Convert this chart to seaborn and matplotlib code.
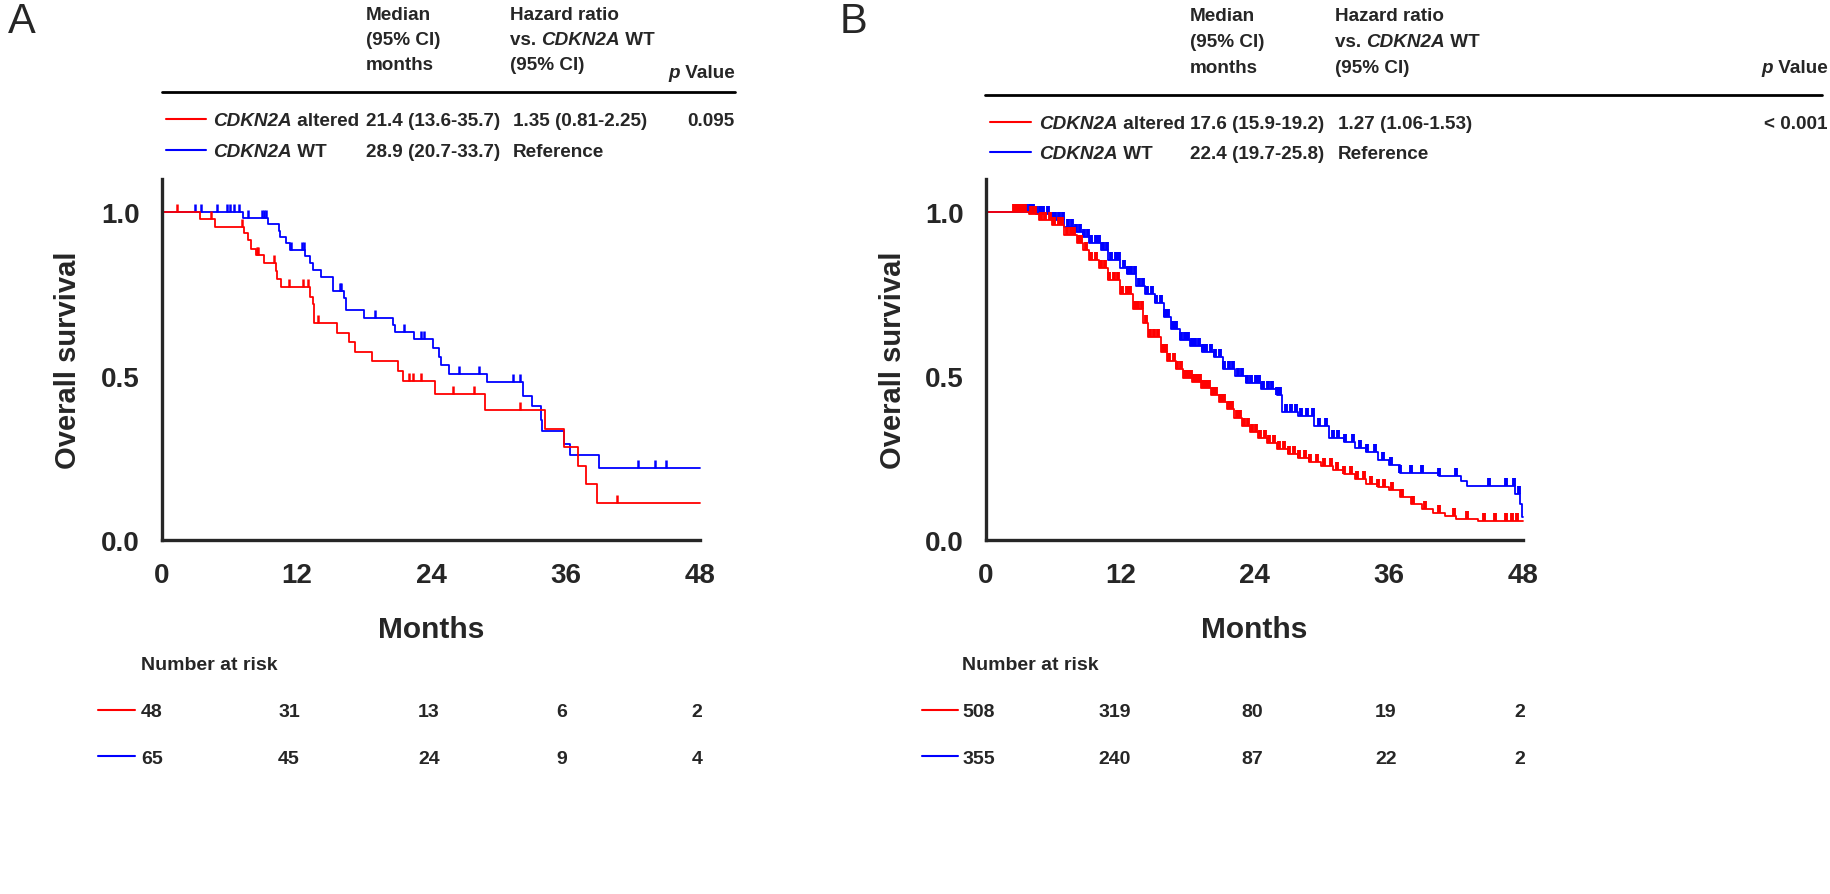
import matplotlib
matplotlib.use("Agg")
import matplotlib.pyplot as plt
import seaborn as sns
import pandas as pd
import numpy as np
from matplotlib.transforms import IdentityTransform

W, H = 1831, 895

# ---------------- panel A: CDKN2A altered (red) / WT (blue) ----------------
a_alt_time = [0, 3.4, 4.7, 7.3, 7.7, 7.9, 8.4, 9.1, 10.2, 10.3, 10.6, 13.2, 13.5, 13.6,
              15.6, 16.7, 17.2, 18.7, 21.1, 21.5, 24.4, 28.8, 34.2, 35.9, 37.1, 37.8, 38.8, 48]
a_alt_surv = [1.0, 0.978, 0.955, 0.935, 0.913, 0.887, 0.867, 0.845, 0.82, 0.795, 0.77, 0.74, 0.718, 0.66,
              0.632, 0.603, 0.574, 0.545, 0.516, 0.486, 0.446, 0.395, 0.339, 0.282, 0.226, 0.17, 0.113, 0.113]
a_alt_cens = [1.3, 4.4, 7.1, 8.5, 8.6, 10.0, 11.3, 12.6, 13.0, 13.9, 22.0, 22.4, 23.1, 26.0, 27.8, 31.9, 40.6]

a_wt_time = [0, 7.2, 9.5, 10.4, 10.5, 11.1, 11.4, 12.8, 13.2, 13.5, 14.2, 15.3, 16.2, 16.4, 18.0,
             20.6, 20.8, 22.5, 24.2, 24.7, 24.9, 25.6, 29.0, 32.2, 33.0, 33.8, 33.9, 35.9, 36.4, 39.0, 48]
a_wt_surv = [1.0, 0.98, 0.962, 0.943, 0.924, 0.904, 0.884, 0.865, 0.845, 0.823, 0.802, 0.76, 0.738, 0.70, 0.677,
             0.655, 0.633, 0.612, 0.585, 0.559, 0.533, 0.507, 0.48, 0.44, 0.407, 0.367, 0.333, 0.293, 0.258, 0.219, 0.219]
a_wt_cens = [2.9, 3.5, 4.9, 5.8, 6.1, 6.4, 6.9, 7.7, 8.9, 9.1, 9.3, 11.5, 12.5, 12.7, 15.9, 16.0,
             19.0, 21.6, 23.1, 23.4, 26.5, 28.3, 31.3, 31.9, 42.5, 44.0, 45.0]

a_risk_alt = [48, 31, 13, 6, 2]
a_risk_wt = [65, 45, 24, 9, 4]
a_stats_alt = ["21.4 (13.6-35.7)", "1.35 (0.81-2.25)", "0.095"]
a_stats_wt = ["28.9 (20.7-33.7)", "Reference", ""]

# ---------------- panel B ----------------
b_alt_time = [0, 3.8, 4.7, 5.9, 7.0, 8.1, 8.7, 9.2, 10.1, 10.9, 12.0, 13.1, 14.0, 14.5, 15.6, 16.2,
              17.0, 17.6, 18.4, 19.2, 20.1, 20.8, 21.5, 22.2, 22.9, 23.6, 24.3, 25.1, 26.0, 27.0,
              27.9, 28.9, 29.9, 31.0, 32.0, 33.0, 34.0, 35.0, 36.0, 37.0, 38.0, 39.0, 40.0, 41.0,
              42.0, 44.0, 48]
b_alt_surv = [1.0, 0.994, 0.976, 0.959, 0.928, 0.906, 0.885, 0.854, 0.828, 0.793, 0.749, 0.705, 0.662,
              0.618, 0.574, 0.544, 0.522, 0.495, 0.48, 0.462, 0.443, 0.42, 0.399, 0.372, 0.347, 0.33,
              0.312, 0.295, 0.277, 0.262, 0.25, 0.237, 0.225, 0.212, 0.2, 0.185, 0.17, 0.162, 0.152,
              0.13, 0.11, 0.095, 0.082, 0.072, 0.065, 0.058, 0.058]
b_alt_cens = [2.5, 2.7, 2.9, 3.1, 3.3, 3.5, 4.0, 4.4, 4.9, 5.3, 5.7, 6.1, 6.5, 6.8, 7.2, 7.6, 7.9,
              8.3, 8.5, 8.9, 9.4, 9.8, 10.3, 10.6, 11.0, 11.4, 11.8, 12.2, 12.6, 12.9, 13.3, 13.6,
              13.9, 14.3, 14.7, 15.0, 15.4, 15.8, 16.1, 16.4, 16.8, 17.1, 17.4, 17.8, 18.1, 18.3,
              18.6, 18.9, 19.1, 19.4, 19.7, 19.9, 20.3, 20.6, 21.0, 21.3, 21.7, 22.0, 22.4, 22.7,
              23.1, 23.4, 23.8, 24.1, 24.5, 24.9, 25.3, 25.7, 26.2, 26.6, 27.1, 27.5, 28.0, 28.5,
              29.0, 29.6, 30.2, 30.8, 31.4, 32.0, 32.6, 33.2, 33.8, 34.4, 35.0, 35.6, 36.3, 37.2,
              38.2, 39.2, 40.5, 41.8, 43.0, 44.5, 45.5, 46.5, 47.0, 47.5]

b_wt_time = [0, 4.5, 5.9, 7.0, 8.0, 8.7, 9.2, 10.3, 10.9, 12.0, 12.6, 13.4, 14.2, 15.1, 15.9, 16.5,
             17.3, 18.2, 19.3, 20.4, 21.2, 22.3, 23.2, 24.6, 26.0, 26.5, 27.9, 29.3, 30.7, 32.0,
             33.0, 34.0, 35.0, 36.0, 37.0, 40.5, 42.5, 43.0, 47.3, 47.7, 47.9, 48]
b_wt_surv = [1.0, 0.993, 0.976, 0.955, 0.94, 0.924, 0.906, 0.885, 0.854, 0.828, 0.81, 0.775, 0.749,
             0.723, 0.68, 0.644, 0.61, 0.592, 0.574, 0.557, 0.522, 0.5, 0.478, 0.46, 0.443, 0.39,
             0.377, 0.347, 0.312, 0.3, 0.28, 0.268, 0.245, 0.23, 0.205, 0.195, 0.18, 0.165, 0.14,
             0.11, 0.07, 0.07]
b_wt_cens = [3.6, 3.9, 4.2, 4.5, 4.8, 5.1, 5.5, 5.9, 6.2, 6.5, 6.9, 7.3, 7.7, 8.0, 8.4, 8.8, 9.1,
             9.4, 9.8, 10.1, 10.5, 10.8, 11.2, 11.6, 11.9, 12.3, 12.7, 13.0, 13.3, 13.7, 14.0, 14.4,
             14.8, 15.2, 15.6, 16.0, 16.3, 16.7, 17.0, 17.4, 17.8, 18.1, 18.4, 18.7, 19.0, 19.4,
             19.7, 20.1, 20.5, 20.9, 21.3, 21.7, 22.1, 22.5, 22.9, 23.3, 23.7, 24.1, 24.4, 24.8,
             25.2, 25.6, 26.0, 26.3, 26.8, 27.3, 27.7, 28.2, 28.7, 29.2, 29.8, 30.4, 31.0, 31.5,
             32.1, 32.8, 33.4, 34.1, 34.8, 35.5, 36.2, 37.0, 38.0, 39.0, 40.5, 42.0, 45.0, 46.5,
             47.2, 47.6]

b_risk_alt = [508, 319, 80, 19, 2]
b_risk_wt = [355, 240, 87, 22, 2]
b_stats_alt = ["17.6 (15.9-19.2)", "1.27 (1.06-1.53)", "< 0.001"]
b_stats_wt = ["22.4 (19.7-25.8)", "Reference", ""]

month_ticks = [0, 12, 24, 36, 48]
RED, BLUE = "#ff0000", "#0000ff"

sns.set_style("white")
plt.rcParams["font.family"] = ["Liberation Sans", "DejaVu Sans"]

fig = plt.figure(figsize=(W / 100, H / 100), dpi=100)
renderer = fig.canvas.get_renderer()
ID = IdentityTransform()
FS = 13.6


def rich(x, y, parts, size=FS, ha="left"):
    # parts: list of (text, fontstyle); x,y in pixels from top-left, y = text centre
    arts = []
    for s, st in parts:
        t = fig.text(0, H - y, s, transform=ID, weight="bold", style=st, fontsize=size,
                     va="center_baseline", ha="left")
        arts.append(t)
    widths = [a.get_window_extent(renderer).width for a in arts]
    x0 = x - sum(widths) if ha == "right" else x
    for a, w in zip(arts, widths):
        a.set_x(x0)
        x0 += w


def hline(x0, x1, y, col, lw):
    fig.add_artist(plt.Line2D([x0 / W, x1 / W], [1 - y / H] * 2, color=col, lw=lw))


def km_panel(left, right, cfg):
    ax = fig.add_axes([left / W, (H - 541) / H, (right - left) / W, (541 - 180) / H])
    for t, s, c, col in [(cfg["wt_t"], cfg["wt_s"], cfg["wt_c"], BLUE),
                         (cfg["alt_t"], cfg["alt_s"], cfg["alt_c"], RED)]:
        df = pd.DataFrame({"Months": t, "Survival": s})
        sns.lineplot(data=df, x="Months", y="Survival", drawstyle="steps-post", estimator=None,
                     sort=False, color=col, lw=1.3, ax=ax, clip_on=False)
        idx = np.searchsorted(t, c, side="right") - 1
        ax.plot(c, np.asarray(s)[idx], ls="none", marker=2, ms=cfg["ms"], mew=cfg["mew"],
                color=col, clip_on=False)
    ax.set_xlim(0, 48)
    ax.set_ylim(0, 1.1)
    ax.set_xticks(month_ticks)
    ax.set_yticks([0, 0.5, 1.0])
    ax.set_yticklabels(["0.0", "0.5", "1.0"])
    sns.despine(ax=ax)
    for sp in ["left", "bottom"]:
        ax.spines[sp].set_linewidth(2.4)
    ax.tick_params(direction="out", length=9, width=2.4, pad=7, labelsize=20)
    for lab in ax.get_xticklabels() + ax.get_yticklabels():
        lab.set_weight("bold")
    ax.set_xlabel("Months", fontsize=21.5, weight="bold")
    ax.set_ylabel("Overall survival", fontsize=21, weight="bold")
    ax.xaxis.set_label_coords(0.5, (541 - 630) / 361)
    ax.xaxis.label.set_va("center")
    ax.yaxis.set_label_coords((cfg["ylab_x"] - left) / (right - left), 0.5)
    ax.yaxis.label.set_va("center")
    ax.set_facecolor("none")
    return ax


km_panel(162, 700, dict(alt_t=a_alt_time, alt_s=a_alt_surv, alt_c=a_alt_cens,
                        wt_t=a_wt_time, wt_s=a_wt_surv, wt_c=a_wt_cens,
                        ms=5.5, mew=1.8, ylab_x=68))
km_panel(986, 1523, dict(alt_t=b_alt_time, alt_s=b_alt_surv, alt_c=b_alt_cens,
                         wt_t=b_wt_time, wt_s=b_wt_surv, wt_c=b_wt_cens,
                         ms=5.5, mew=2.8, ylab_x=893))

# panel letters
fig.text(8 / W, 1 - 22 / H, "A", fontsize=30, va="center")
fig.text(840 / W, 1 - 22 / H, "B", fontsize=30, va="center")


def header(c1, c2, cp, yl, line_x, rows_y, leg_x, lab_x, pval_y, stats, head_y):
    rich(c1, head_y[0], [("Median", "normal")])
    rich(c1, head_y[1], [("(95% CI)", "normal")])
    rich(c1, head_y[2], [("months", "normal")])
    rich(c2, head_y[0], [("Hazard ratio", "normal")])
    rich(c2, head_y[1], [("vs. ", "normal"), ("CDKN2A", "italic"), (" WT", "normal")])
    rich(c2, head_y[2], [("(95% CI)", "normal")])
    rich(cp, pval_y, [("p", "italic"), (" Value", "normal")], ha="right")
    hline(line_x[0], line_x[1], yl, "black", 2)
    labels = [[("CDKN2A", "italic"), (" altered", "normal")], [("CDKN2A", "italic"), (" WT", "normal")]]
    for ry, col, lab, st in zip(rows_y, [RED, BLUE], labels, stats):
        hline(leg_x[0], leg_x[1], ry, col, 1.5)
        rich(lab_x, ry, lab)
        rich(c1, ry, [(st[0], "normal")])
        rich(c2 + 3, ry, [(st[1], "normal")])
        if st[2]:
            rich(cp, ry, [(st[2], "normal")], ha="right")


header(366, 510, 735, 93, (162, 735), (120, 151), (166, 206), 213, 72,
       [a_stats_alt, a_stats_wt], (14, 39, 64))
header(1190, 1335, 1828, 96, (985, 1822), (123, 153), (990, 1031), 1039, 67,
       [b_stats_alt, b_stats_wt], (15, 41, 67))


def risk_table(x_nar, rows_y, leg_x, cols_x, vals):
    rich(x_nar, 664, [("Number at risk", "normal")], size=14)
    for ry, col, v in zip(rows_y, [RED, BLUE], vals):
        hline(leg_x[0], leg_x[1], ry, col, 1.5)
        for cx, n in zip(cols_x, v):
            fig.text(cx / W, 1 - ry / H, str(n), fontsize=14, weight="bold",
                     ha="center", va="center_baseline")


risk_table(141, (711, 757), (98, 135), (152, 289, 429, 562, 697), [a_risk_alt, a_risk_wt])
risk_table(962, (711, 757), (922, 958), (979, 1115, 1252, 1386, 1520), [b_risk_alt, b_risk_wt])

fig.savefig("out.png", dpi=100, facecolor="white")
